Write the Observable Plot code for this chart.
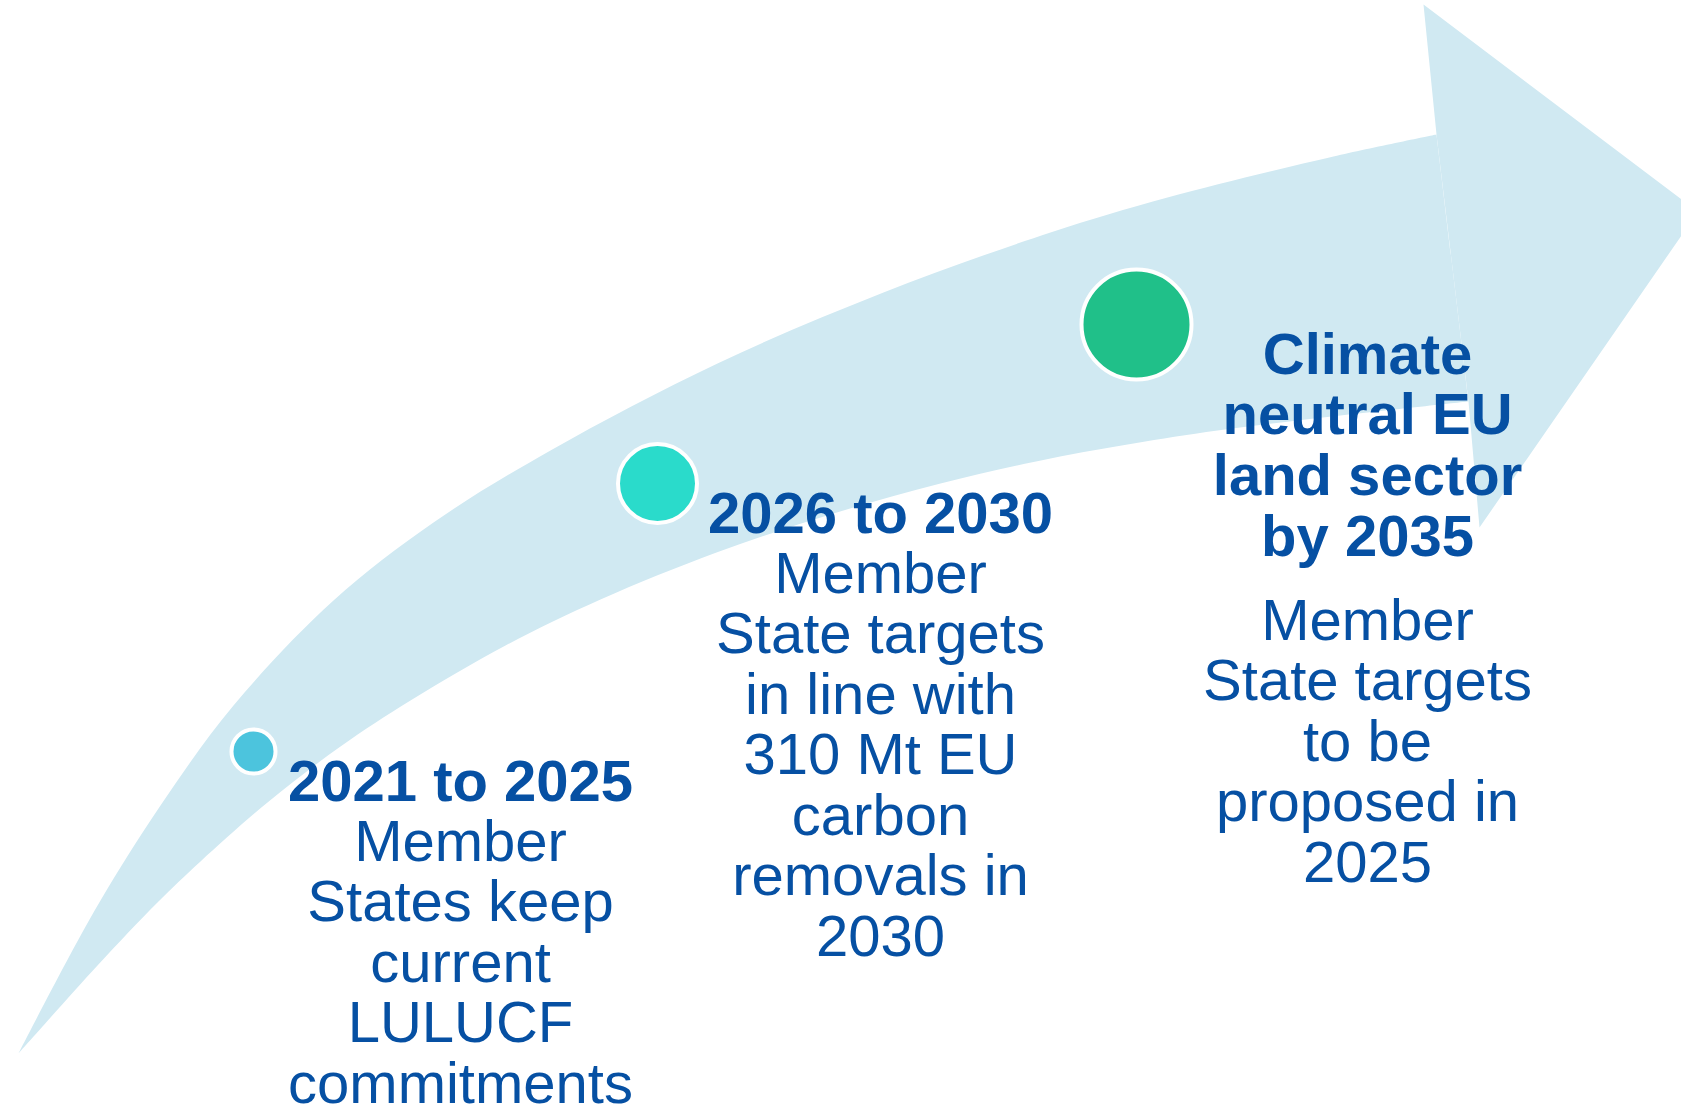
<!DOCTYPE html>
<html>
<head>
<meta charset="utf-8">
<script src="https://cdn.jsdelivr.net/npm/d3@7"></script>
<script src="https://cdn.jsdelivr.net/npm/@observablehq/plot@0.6"></script>
<style>
  html, body { margin: 0; padding: 0; background: #ffffff; }
  #chart svg { display: block; }
</style>
</head>
<body>
<div id="chart"></div>
<script>
// Arrow outline (pixel space of the 1681x1106 figure)
const upperEdgeX = [18, 57, 100, 160, 233, 333, 433, 550, 717, 883, 1050, 1167, 1333, 1436];
const upperEdgeY = [1053, 978, 900, 805, 705, 600, 522, 450, 363, 292, 232, 197, 156, 134];
const lowerEdgeX = [18, 97, 157, 200, 267, 340, 410, 505, 600, 716, 833, 940, 1050, 1133, 1217, 1340, 1468];
const lowerEdgeY = [1053, 965, 902, 861, 802, 746, 700, 645, 599, 552, 513, 483, 458, 443, 430, 415, 401];
const headX = [1436, 1423, 1681, 1681, 1479, 1468];
const headY = [134, 4, 199, 235, 527, 401];

// Milestone dots
const dotX = [253, 657, 1136];
const dotY = [751, 483, 324];
const dotR = [22, 39.5, 55];
const dotColor = ["#4cc4dd", "#2adbcb", "#20c089"];

// Texts
const titles = ["2021 to 2025", "2026 to 2030", "Climate\nneutral EU\nland sector\nby 2035"];
const bodies = [
  "Member\nStates keep\ncurrent\nLULUCF\ncommitments",
  "Member\nState targets\nin line with\n310 Mt EU\ncarbon\nremovals in\n2030",
  "Member\nState targets\nto be\nproposed in\n2025"
];
const textX = [460, 880, 1367];
const titleBaseline = [800, 532, 555];
const bodyBaseline = [1102, 955, 881];

const W = 1681, H = 1106;
const arrowFill = "#d0e9f2";
const textColor = "#0650a3";
const font = "'Liberation Sans', Arial, Helvetica, sans-serif";

// body path: tail -> upper edge -> notch corner -> lower notch corner -> lower edge back to tail
const bodyPts = [];
upperEdgeX.forEach((x, i) => bodyPts.push({x, y: upperEdgeY[i]}));
bodyPts.push({x: upperEdgeX.at(-1), y: upperEdgeY.at(-1)});
bodyPts.push({x: lowerEdgeX.at(-1), y: lowerEdgeY.at(-1)});
for (let i = lowerEdgeX.length - 1; i >= 0; i--) bodyPts.push({x: lowerEdgeX[i], y: lowerEdgeY[i]});

const headPts = headX.map((x, i) => ({x, y: headY[i]}));
const dots = dotX.map((x, i) => ({x, y: dotY[i], r: dotR[i], c: dotColor[i]}));
const titleData = titles.map((t, i) => ({t, x: textX[i], y: titleBaseline[i]}));
const bodyData = bodies.map((t, i) => ({t, x: textX[i], y: bodyBaseline[i]}));

const chart = Plot.plot({
  width: W,
  height: H,
  margin: 0,
  x: {domain: [0, W], range: [0, W], axis: null},
  y: {domain: [0, H], range: [0, H], axis: null},
  style: {background: "#ffffff", fontFamily: font},
  marks: [
    Plot.line(bodyPts, {x: "x", y: "y", fill: arrowFill, stroke: "none", curve: "catmull-rom"}),
    Plot.line(headPts, {x: "x", y: "y", fill: arrowFill, stroke: "none", curve: "linear"}),
    Plot.dot(dots, {x: "x", y: "y", r: "r", fill: "c", stroke: "#ffffff", strokeWidth: 4}),
    Plot.text(titleData, {x: "x", y: "y", text: "t", fill: textColor, fontSize: 58, fontWeight: "bold",
      fontFamily: font, textAnchor: "middle", lineAnchor: "bottom", lineHeight: 1.046}),
    Plot.text(bodyData, {x: "x", y: "y", text: "t", fill: textColor, fontSize: 58,
      fontFamily: font, textAnchor: "middle", lineAnchor: "bottom", lineHeight: 1.043})
  ],
  r: {type: "identity"},
  color: {type: "identity"}
});
document.getElementById("chart").appendChild(chart);
</script>
</body>
</html>
